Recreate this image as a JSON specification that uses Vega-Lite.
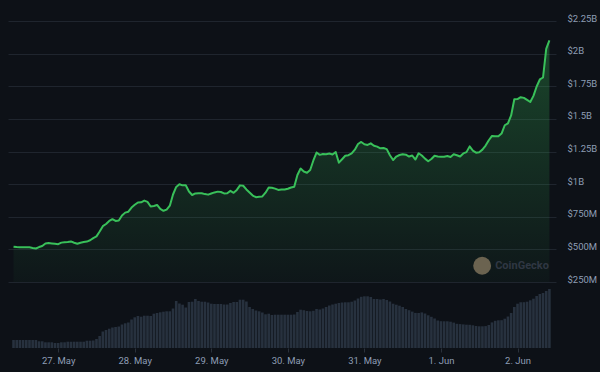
{
  "$schema": "https://vega.github.io/schema/vega-lite/v6.json",
  "width": 548,
  "height": 343,
  "autosize": {"type": "none"},
  "padding": {"left": 8, "top": 5, "right": 44, "bottom": 24},
  "background": "#0d1117",
  "config": {"view": {"stroke": null}, "font": "Roboto"},
  "data": {"values": [
    {"t":"2024-05-26T10:00:00Z","cap":521,"vol":8},
    {"t":"2024-05-26T11:00:00Z","cap":518,"vol":8},
    {"t":"2024-05-26T12:00:00Z","cap":516,"vol":8},
    {"t":"2024-05-26T13:00:00Z","cap":516,"vol":8},
    {"t":"2024-05-26T14:00:00Z","cap":516,"vol":8},
    {"t":"2024-05-26T15:00:00Z","cap":516,"vol":8},
    {"t":"2024-05-26T16:00:00Z","cap":511,"vol":8},
    {"t":"2024-05-26T17:00:00Z","cap":507,"vol":8},
    {"t":"2024-05-26T18:00:00Z","cap":518,"vol":6.7},
    {"t":"2024-05-26T19:00:00Z","cap":526,"vol":6.7},
    {"t":"2024-05-26T20:00:00Z","cap":545,"vol":5.7},
    {"t":"2024-05-26T21:00:00Z","cap":549,"vol":5.7},
    {"t":"2024-05-26T22:00:00Z","cap":546,"vol":5.7},
    {"t":"2024-05-26T23:00:00Z","cap":543,"vol":5},
    {"t":"2024-05-27T00:00:00Z","cap":540,"vol":5},
    {"t":"2024-05-27T01:00:00Z","cap":552,"vol":5.7},
    {"t":"2024-05-27T02:00:00Z","cap":554,"vol":5.7},
    {"t":"2024-05-27T03:00:00Z","cap":556,"vol":6.3},
    {"t":"2024-05-27T04:00:00Z","cap":561,"vol":6.3},
    {"t":"2024-05-27T05:00:00Z","cap":551,"vol":6.3},
    {"t":"2024-05-27T06:00:00Z","cap":543,"vol":6.3},
    {"t":"2024-05-27T07:00:00Z","cap":551,"vol":6.3},
    {"t":"2024-05-27T08:00:00Z","cap":556,"vol":6.3},
    {"t":"2024-05-27T09:00:00Z","cap":560,"vol":7.3},
    {"t":"2024-05-27T10:00:00Z","cap":570,"vol":7.3},
    {"t":"2024-05-27T11:00:00Z","cap":587,"vol":7.5},
    {"t":"2024-05-27T12:00:00Z","cap":600,"vol":9},
    {"t":"2024-05-27T13:00:00Z","cap":637,"vol":12},
    {"t":"2024-05-27T14:00:00Z","cap":678,"vol":16.5},
    {"t":"2024-05-27T15:00:00Z","cap":695,"vol":18},
    {"t":"2024-05-27T16:00:00Z","cap":718,"vol":19.3},
    {"t":"2024-05-27T17:00:00Z","cap":732,"vol":20.5},
    {"t":"2024-05-27T18:00:00Z","cap":718,"vol":21},
    {"t":"2024-05-27T19:00:00Z","cap":722,"vol":21.5},
    {"t":"2024-05-27T20:00:00Z","cap":760,"vol":23.5},
    {"t":"2024-05-27T21:00:00Z","cap":782,"vol":24.7},
    {"t":"2024-05-27T22:00:00Z","cap":789,"vol":25.5},
    {"t":"2024-05-27T23:00:00Z","cap":821,"vol":28.5},
    {"t":"2024-05-28T00:00:00Z","cap":842,"vol":30.7},
    {"t":"2024-05-28T01:00:00Z","cap":860,"vol":32},
    {"t":"2024-05-28T02:00:00Z","cap":861,"vol":31.3},
    {"t":"2024-05-28T03:00:00Z","cap":874,"vol":32.3},
    {"t":"2024-05-28T04:00:00Z","cap":864,"vol":32.3},
    {"t":"2024-05-28T05:00:00Z","cap":829,"vol":32},
    {"t":"2024-05-28T06:00:00Z","cap":833,"vol":34.3},
    {"t":"2024-05-28T07:00:00Z","cap":841,"vol":35},
    {"t":"2024-05-28T08:00:00Z","cap":810,"vol":35.7},
    {"t":"2024-05-28T09:00:00Z","cap":796,"vol":36.3},
    {"t":"2024-05-28T10:00:00Z","cap":805,"vol":36.7},
    {"t":"2024-05-28T11:00:00Z","cap":835,"vol":36.7},
    {"t":"2024-05-28T12:00:00Z","cap":921,"vol":39.5},
    {"t":"2024-05-28T13:00:00Z","cap":979,"vol":47},
    {"t":"2024-05-28T14:00:00Z","cap":999,"vol":44.5},
    {"t":"2024-05-28T15:00:00Z","cap":991,"vol":43.3},
    {"t":"2024-05-28T16:00:00Z","cap":992,"vol":40.5},
    {"t":"2024-05-28T17:00:00Z","cap":944,"vol":46},
    {"t":"2024-05-28T18:00:00Z","cap":917,"vol":46.3},
    {"t":"2024-05-28T19:00:00Z","cap":929,"vol":49},
    {"t":"2024-05-28T20:00:00Z","cap":931,"vol":47},
    {"t":"2024-05-28T21:00:00Z","cap":930,"vol":46.3},
    {"t":"2024-05-28T22:00:00Z","cap":924,"vol":46.3},
    {"t":"2024-05-28T23:00:00Z","cap":920,"vol":45.5},
    {"t":"2024-05-29T00:00:00Z","cap":929,"vol":44.3},
    {"t":"2024-05-29T01:00:00Z","cap":937,"vol":44},
    {"t":"2024-05-29T02:00:00Z","cap":943,"vol":44},
    {"t":"2024-05-29T03:00:00Z","cap":940,"vol":44},
    {"t":"2024-05-29T04:00:00Z","cap":929,"vol":43.5},
    {"t":"2024-05-29T05:00:00Z","cap":930,"vol":43.5},
    {"t":"2024-05-29T06:00:00Z","cap":949,"vol":45},
    {"t":"2024-05-29T07:00:00Z","cap":934,"vol":46},
    {"t":"2024-05-29T08:00:00Z","cap":956,"vol":46},
    {"t":"2024-05-29T09:00:00Z","cap":991,"vol":48.3},
    {"t":"2024-05-29T10:00:00Z","cap":988,"vol":48.3},
    {"t":"2024-05-29T11:00:00Z","cap":960,"vol":46.5},
    {"t":"2024-05-29T12:00:00Z","cap":937,"vol":41},
    {"t":"2024-05-29T13:00:00Z","cap":913,"vol":39},
    {"t":"2024-05-29T14:00:00Z","cap":900,"vol":37.5},
    {"t":"2024-05-29T15:00:00Z","cap":903,"vol":36.7},
    {"t":"2024-05-29T16:00:00Z","cap":906,"vol":35.5},
    {"t":"2024-05-29T17:00:00Z","cap":935,"vol":33.7},
    {"t":"2024-05-29T18:00:00Z","cap":974,"vol":34.3},
    {"t":"2024-05-29T19:00:00Z","cap":973,"vol":33},
    {"t":"2024-05-29T20:00:00Z","cap":966,"vol":33.3},
    {"t":"2024-05-29T21:00:00Z","cap":956,"vol":33.3},
    {"t":"2024-05-29T22:00:00Z","cap":959,"vol":33.3},
    {"t":"2024-05-29T23:00:00Z","cap":959,"vol":33.3},
    {"t":"2024-05-30T00:00:00Z","cap":965,"vol":33.3},
    {"t":"2024-05-30T01:00:00Z","cap":975,"vol":33.3},
    {"t":"2024-05-30T02:00:00Z","cap":981,"vol":33.5},
    {"t":"2024-05-30T03:00:00Z","cap":1071,"vol":36},
    {"t":"2024-05-30T04:00:00Z","cap":1120,"vol":38.3},
    {"t":"2024-05-30T05:00:00Z","cap":1097,"vol":37.8},
    {"t":"2024-05-30T06:00:00Z","cap":1088,"vol":37},
    {"t":"2024-05-30T07:00:00Z","cap":1109,"vol":36.7},
    {"t":"2024-05-30T08:00:00Z","cap":1182,"vol":37.2},
    {"t":"2024-05-30T09:00:00Z","cap":1243,"vol":39},
    {"t":"2024-05-30T10:00:00Z","cap":1225,"vol":38.5},
    {"t":"2024-05-30T11:00:00Z","cap":1231,"vol":39.5},
    {"t":"2024-05-30T12:00:00Z","cap":1230,"vol":41},
    {"t":"2024-05-30T13:00:00Z","cap":1235,"vol":42.5},
    {"t":"2024-05-30T14:00:00Z","cap":1228,"vol":43.5},
    {"t":"2024-05-30T15:00:00Z","cap":1247,"vol":44.3},
    {"t":"2024-05-30T16:00:00Z","cap":1165,"vol":45},
    {"t":"2024-05-30T17:00:00Z","cap":1191,"vol":45.5},
    {"t":"2024-05-30T18:00:00Z","cap":1218,"vol":45.7},
    {"t":"2024-05-30T19:00:00Z","cap":1222,"vol":45.7},
    {"t":"2024-05-30T20:00:00Z","cap":1236,"vol":46.3},
    {"t":"2024-05-30T21:00:00Z","cap":1265,"vol":47.5},
    {"t":"2024-05-30T22:00:00Z","cap":1308,"vol":49.5},
    {"t":"2024-05-30T23:00:00Z","cap":1324,"vol":51.2},
    {"t":"2024-05-31T00:00:00Z","cap":1306,"vol":51.7},
    {"t":"2024-05-31T01:00:00Z","cap":1301,"vol":51.7},
    {"t":"2024-05-31T02:00:00Z","cap":1313,"vol":51},
    {"t":"2024-05-31T03:00:00Z","cap":1295,"vol":49},
    {"t":"2024-05-31T04:00:00Z","cap":1288,"vol":49},
    {"t":"2024-05-31T05:00:00Z","cap":1275,"vol":48.5},
    {"t":"2024-05-31T06:00:00Z","cap":1278,"vol":49},
    {"t":"2024-05-31T07:00:00Z","cap":1269,"vol":48},
    {"t":"2024-05-31T08:00:00Z","cap":1222,"vol":46.5},
    {"t":"2024-05-31T09:00:00Z","cap":1185,"vol":44.3},
    {"t":"2024-05-31T10:00:00Z","cap":1212,"vol":43.3},
    {"t":"2024-05-31T11:00:00Z","cap":1224,"vol":42.3},
    {"t":"2024-05-31T12:00:00Z","cap":1230,"vol":41},
    {"t":"2024-05-31T13:00:00Z","cap":1226,"vol":39},
    {"t":"2024-05-31T14:00:00Z","cap":1212,"vol":37.8},
    {"t":"2024-05-31T15:00:00Z","cap":1220,"vol":36.4},
    {"t":"2024-05-31T16:00:00Z","cap":1189,"vol":35.1},
    {"t":"2024-05-31T17:00:00Z","cap":1237,"vol":35},
    {"t":"2024-05-31T18:00:00Z","cap":1220,"vol":35.6},
    {"t":"2024-05-31T19:00:00Z","cap":1196,"vol":34.5},
    {"t":"2024-05-31T20:00:00Z","cap":1176,"vol":32.7},
    {"t":"2024-05-31T21:00:00Z","cap":1193,"vol":31.2},
    {"t":"2024-05-31T22:00:00Z","cap":1218,"vol":29.5},
    {"t":"2024-05-31T23:00:00Z","cap":1212,"vol":27.5},
    {"t":"2024-06-01T00:00:00Z","cap":1211,"vol":26.8},
    {"t":"2024-06-01T01:00:00Z","cap":1211,"vol":26.7},
    {"t":"2024-06-01T02:00:00Z","cap":1216,"vol":26.7},
    {"t":"2024-06-01T03:00:00Z","cap":1209,"vol":26.3},
    {"t":"2024-06-01T04:00:00Z","cap":1229,"vol":25.4},
    {"t":"2024-06-01T05:00:00Z","cap":1222,"vol":24.2},
    {"t":"2024-06-01T06:00:00Z","cap":1212,"vol":23.9},
    {"t":"2024-06-01T07:00:00Z","cap":1236,"vol":23.6},
    {"t":"2024-06-01T08:00:00Z","cap":1246,"vol":23.3},
    {"t":"2024-06-01T09:00:00Z","cap":1290,"vol":23.2},
    {"t":"2024-06-01T10:00:00Z","cap":1258,"vol":22.7},
    {"t":"2024-06-01T11:00:00Z","cap":1242,"vol":22},
    {"t":"2024-06-01T12:00:00Z","cap":1245,"vol":21.7},
    {"t":"2024-06-01T13:00:00Z","cap":1265,"vol":21.7},
    {"t":"2024-06-01T14:00:00Z","cap":1296,"vol":21.9},
    {"t":"2024-06-01T15:00:00Z","cap":1337,"vol":23},
    {"t":"2024-06-01T16:00:00Z","cap":1370,"vol":25.6},
    {"t":"2024-06-01T17:00:00Z","cap":1367,"vol":27.2},
    {"t":"2024-06-01T18:00:00Z","cap":1368,"vol":27.7},
    {"t":"2024-06-01T19:00:00Z","cap":1388,"vol":27.8},
    {"t":"2024-06-01T20:00:00Z","cap":1452,"vol":29.3},
    {"t":"2024-06-01T21:00:00Z","cap":1467,"vol":31.5},
    {"t":"2024-06-01T22:00:00Z","cap":1527,"vol":35},
    {"t":"2024-06-01T23:00:00Z","cap":1651,"vol":41},
    {"t":"2024-06-02T00:00:00Z","cap":1653,"vol":44.3},
    {"t":"2024-06-02T01:00:00Z","cap":1667,"vol":45.7},
    {"t":"2024-06-02T02:00:00Z","cap":1662,"vol":45.8},
    {"t":"2024-06-02T03:00:00Z","cap":1646,"vol":46.3},
    {"t":"2024-06-02T04:00:00Z","cap":1630,"vol":47.7},
    {"t":"2024-06-02T05:00:00Z","cap":1677,"vol":49.3},
    {"t":"2024-06-02T06:00:00Z","cap":1749,"vol":52},
    {"t":"2024-06-02T07:00:00Z","cap":1803,"vol":54},
    {"t":"2024-06-02T08:00:00Z","cap":1818,"vol":55},
    {"t":"2024-06-02T09:00:00Z","cap":2037,"vol":57},
    {"t":"2024-06-02T10:00:00Z","cap":2102,"vol":59}
  ]},
  "encoding": {
    "x": {
      "field": "t",
      "type": "temporal",
      "scale": {
        "type": "utc",
        "domain": [
          {"year": 2024, "month": 5, "date": 26, "hours": 9, "minutes": 50, "utc": true},
          {"year": 2024, "month": 6, "date": 2, "hours": 10, "minutes": 30, "utc": true}
        ]
      },
      "axis": {
        "title": null,
        "grid": false,
        "domain": false,
        "values": [
          {"year": 2024, "month": 5, "date": 27, "utc": true},
          {"year": 2024, "month": 5, "date": 28, "utc": true},
          {"year": 2024, "month": 5, "date": 29, "utc": true},
          {"year": 2024, "month": 5, "date": 30, "utc": true},
          {"year": 2024, "month": 5, "date": 31, "utc": true},
          {"year": 2024, "month": 6, "date": 1, "utc": true},
          {"year": 2024, "month": 6, "date": 2, "utc": true}
        ],
        "labelExpr": "utcFormat(datum.value, '%-d. %b')",
        "labelColor": "#8d9db5",
        "labelFontSize": 9.5,
        "labelPadding": 3,
        "tickColor": "#2a313b",
        "tickSize": 4
      }
    }
  },
  "layer": [
    {
      "mark": {"type": "bar", "size": 2.6, "color": "#27313e"},
      "encoding": {
        "y": {"field": "vol", "type": "quantitative", "scale": {"domain": [0, 343]}, "axis": null}
      }
    },
    {
      "encoding": {
        "y": {
          "field": "cap",
          "type": "quantitative",
          "scale": {"domain": [-256, 2374], "zero": false, "nice": false},
          "axis": {
            "orient": "right",
            "title": null,
            "values": [250, 500, 750, 1000, 1250, 1500, 1750, 2000, 2250],
            "labelExpr": "datum.value >= 1000 ? '$' + (datum.value / 1000) + 'B' : '$' + datum.value + 'M'",
            "grid": true,
            "gridColor": "#1f252e",
            "ticks": false,
            "domain": false,
            "labelAlign": "left",
            "labelBaseline": "alphabetic",
            "labelPadding": 11,
            "labelColor": "#8d9db5",
            "labelFontSize": 9.5
          }
        }
      },
      "layer": [
        {
          "mark": {
            "type": "area",
            "color": {
              "gradient": "linear",
              "x1": 0, "y1": 0, "x2": 0, "y2": 1,
              "stops": [
                {"offset": 0, "color": "rgba(57,192,90,0.30)"},
                {"offset": 1, "color": "rgba(57,192,90,0.03)"}
              ]
            }
          },
          "encoding": {"y2": {"datum": 250}}
        },
        {
          "mark": {"type": "line", "color": "#39c05a", "strokeWidth": 2, "strokeJoin": "round"}
        },
        {
          "data": {"values": [{"t": "2024-06-01T12:55:00Z", "cap": 375, "label": "CoinGecko"}]},
          "mark": {"type": "point", "filled": true, "size": 320, "color": "#6b6350", "opacity": 1}
        },
        {
          "data": {"values": [{"t": "2024-06-01T12:55:00Z", "cap": 375, "label": "CoinGecko"}]},
          "mark": {"type": "text", "align": "left", "baseline": "middle", "dx": 13, "fontSize": 11, "fontWeight": "bold", "color": "#2f3743"},
          "encoding": {"text": {"field": "label"}}
        }
      ]
    }
  ],
  "resolve": {"scale": {"y": "independent"}}
}
